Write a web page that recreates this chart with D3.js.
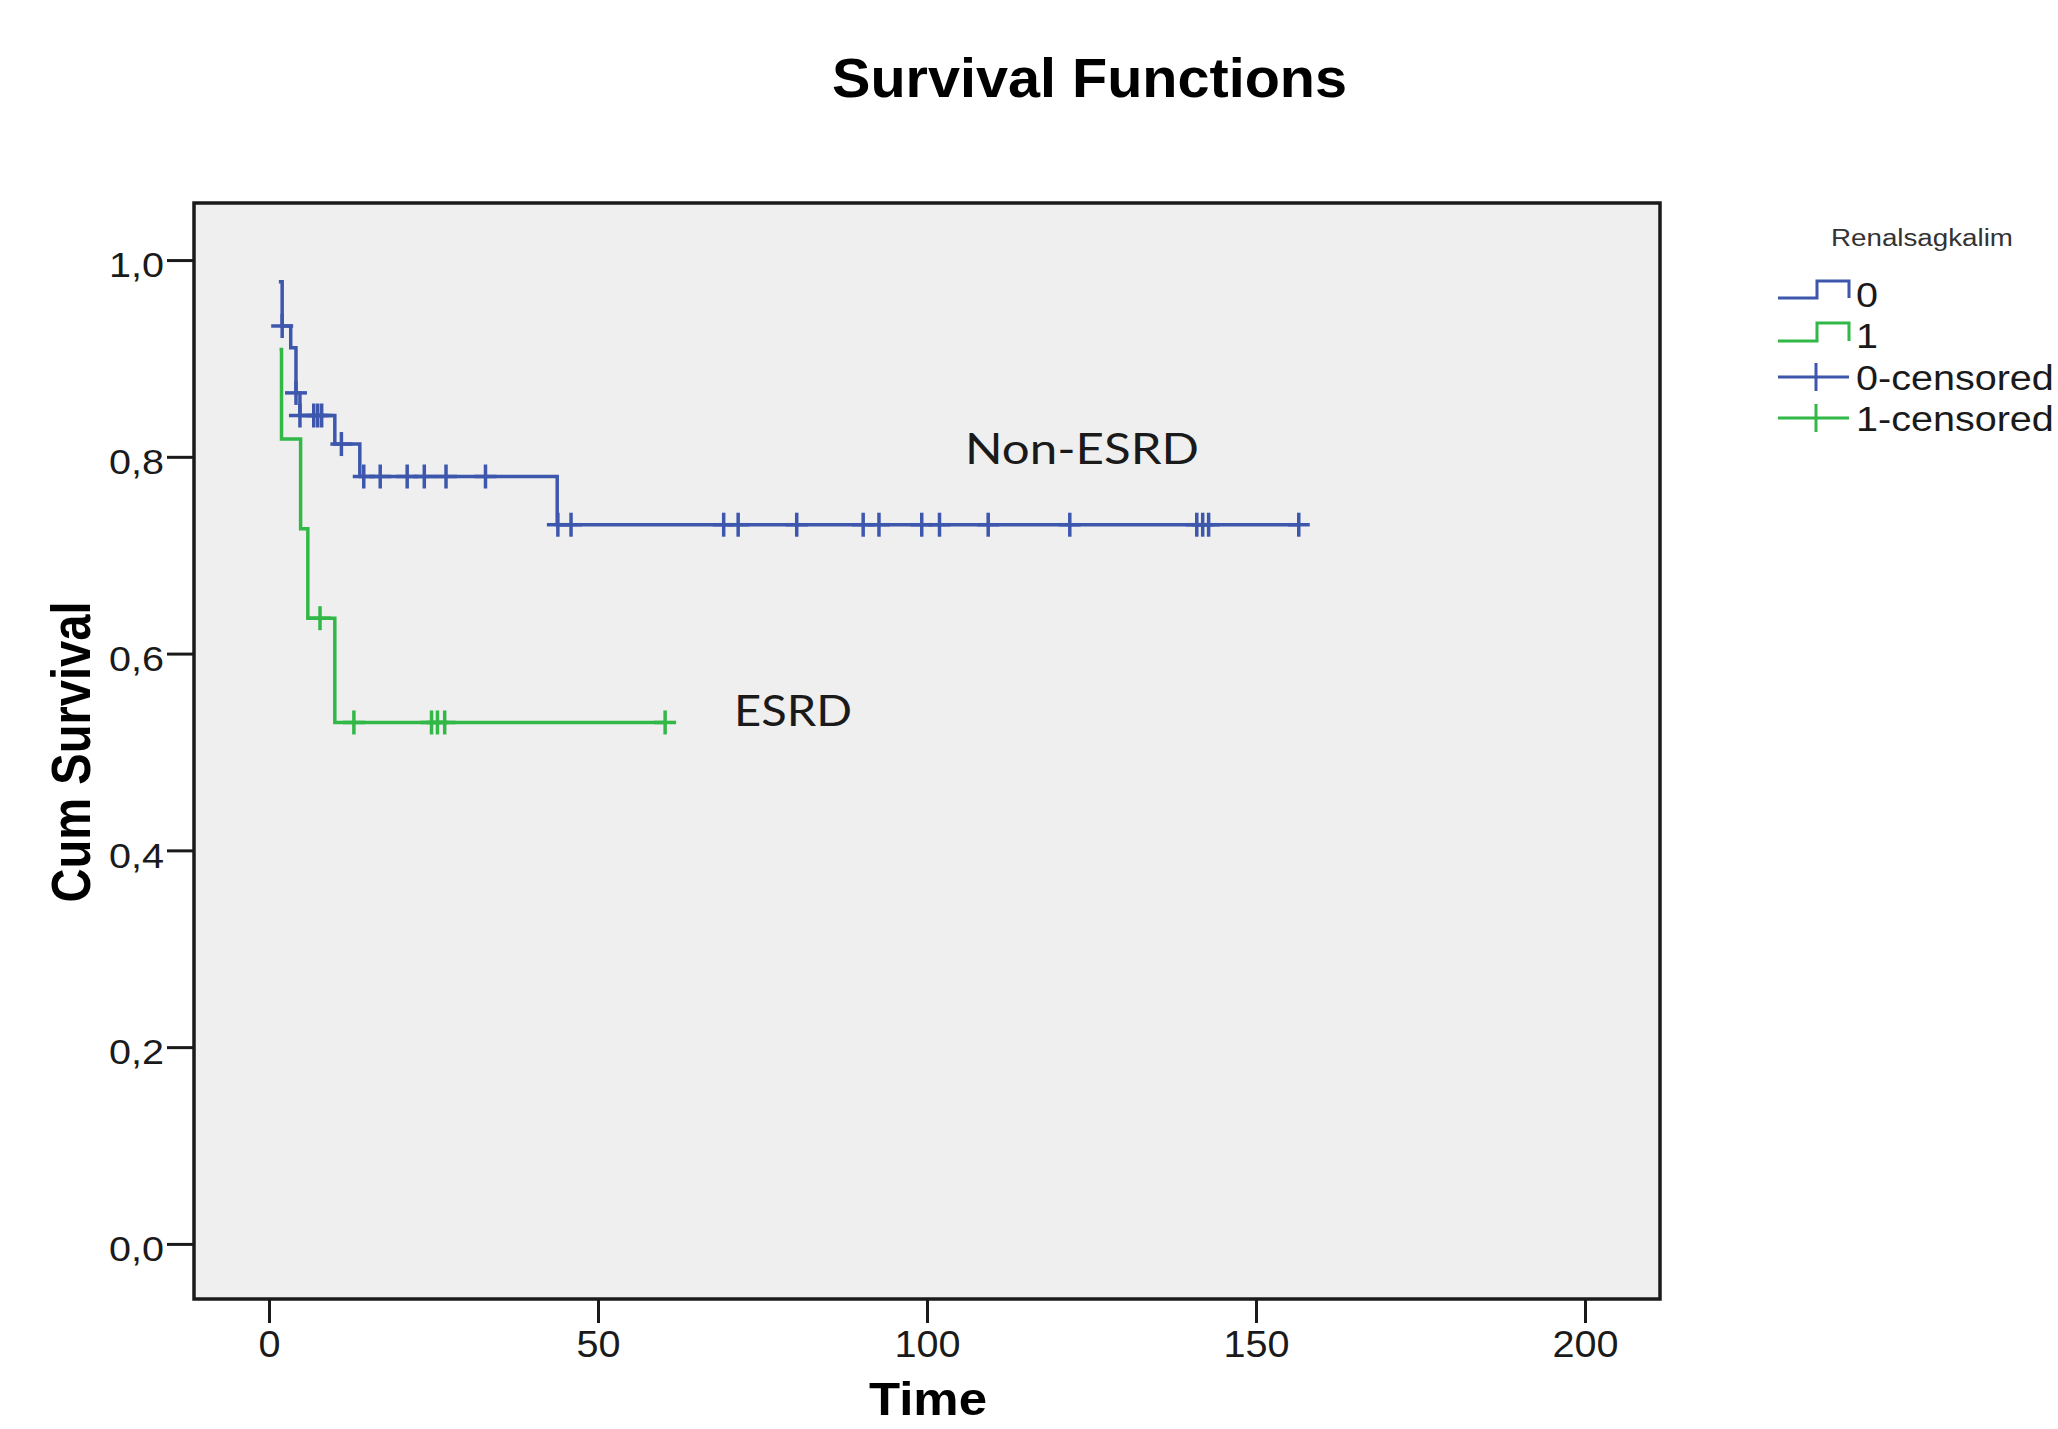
<!DOCTYPE html>
<html>
<head>
<meta charset="utf-8">
<script src="https://cdn.jsdelivr.net/npm/d3@7"></script>
<style>
  html, body { margin: 0; padding: 0; background: #ffffff; }
  svg { display: block; }
</style>
</head>
<body>
<svg id="chart" width="2058" height="1429"></svg>
<script>
// ---------------- DATA ----------------
const chartTitle = "Survival Functions";
const xAxisTitle = "Time";
const yAxisTitle = "Cum Survival";
const legendTitle = "Renalsagkalim";
const groupNames = ["0", "1"];
const censoredNames = ["0-censored", "1-censored"];
const annotationLabels = ["Non-ESRD", "ESRD"];

const xTickValues = [0, 50, 100, 150, 200];
const xTickLabels = ["0", "50", "100", "150", "200"];
const yTickValues = [0.0, 0.2, 0.4, 0.6, 0.8, 1.0];
const yTickLabels = ["0,0", "0,2", "0,4", "0,6", "0,8", "1,0"];

// group 0 (Non-ESRD): event times and cumulative survival after each event
const group0EventTimes = [1.5, 2.0, 3.3, 4.1, 4.7, 10.0, 13.8, 43.8];
const group0Survival   = [0.978, 0.933, 0.911, 0.865, 0.842, 0.813, 0.780, 0.731];
const group0CensorTimes = [2.0, 4.1, 4.7, 6.8, 7.4, 8.0, 11.0, 14.4, 16.9, 21.0, 23.6, 26.9, 32.9,
  43.9, 45.9, 69.1, 71.3, 80.2, 90.3, 92.7, 99.2, 101.9, 109.3, 121.7, 141.0, 141.9, 142.8, 156.5];

// group 1 (ESRD)
const group1EventTimes = [1.6, 1.9, 4.8, 5.9, 10.0];
const group1Survival   = [0.909, 0.818, 0.727, 0.636, 0.530];
const group1CensorTimes = [7.75, 12.9, 24.7, 25.6, 26.7, 60.2];

// ---------------- LAYOUT ----------------
const plot = { left: 194, right: 1660, top: 203, bottom: 1299 };
const colors = ["#3D57AD", "#32B846"];
const svg = d3.select("#chart");

const x = d3.scaleLinear().domain([-11.4, 211.4]).range([plot.left, plot.right]);
const y = d3.scaleLinear().domain([-0.056, 1.058]).range([plot.bottom, plot.top]);

function stretch(sel, k) {
  sel.each(function () {
    const len = this.getComputedTextLength();
    d3.select(this).attr("textLength", len * k).attr("lengthAdjust", "spacingAndGlyphs");
  });
  return sel;
}
function fitWidth(sel, w) {
  sel.attr("textLength", w).attr("lengthAdjust", "spacingAndGlyphs");
  return sel;
}

// title
fitWidth(svg.append("text")
  .attr("x", 1089.5).attr("y", 97)
  .attr("text-anchor", "middle")
  .attr("font-family", "Liberation Sans, Arial, sans-serif")
  .attr("font-weight", "bold").attr("font-size", 56)
  .attr("fill", "#000")
  .text(chartTitle), 515);

// plot background
svg.append("rect")
  .attr("x", plot.left).attr("y", plot.top)
  .attr("width", plot.right - plot.left).attr("height", plot.bottom - plot.top)
  .attr("fill", "#EFEFEF");

// y axis
const yAxis = d3.axisLeft(y).tickValues(yTickValues)
  .tickFormat((d, i) => yTickLabels[i]).tickSize(27).tickSizeOuter(0).tickPadding(3);
const gy = svg.append("g").attr("transform", `translate(${plot.left},0)`).call(yAxis);
gy.select(".domain").remove();
gy.selectAll(".tick line").attr("stroke", "#1a1a1a").attr("stroke-width", 3);
gy.selectAll(".tick text")
  .attr("font-family", "Liberation Sans, Arial, sans-serif")
  .attr("font-size", 35).attr("fill", "#1a1a1a")
  .attr("dy", "0.48em");
stretch(gy.selectAll(".tick text"), 1.13);

// x axis
const xAxis = d3.axisBottom(x).tickValues(xTickValues)
  .tickFormat((d, i) => xTickLabels[i]).tickSize(24).tickSizeOuter(0).tickPadding(8);
const gx = svg.append("g").attr("transform", `translate(0,${plot.bottom})`).call(xAxis);
gx.select(".domain").remove();
gx.selectAll(".tick line").attr("stroke", "#1a1a1a").attr("stroke-width", 3);
gx.selectAll(".tick text")
  .attr("font-family", "Liberation Sans, Arial, sans-serif")
  .attr("font-size", 36).attr("fill", "#1a1a1a")
  .attr("dy", "0.71em");
stretch(gx.selectAll(".tick text"), 1.1);

// frame
svg.append("rect")
  .attr("x", plot.left).attr("y", plot.top)
  .attr("width", plot.right - plot.left).attr("height", plot.bottom - plot.top)
  .attr("fill", "none").attr("stroke", "#1a1a1a").attr("stroke-width", 3.5);

// axis titles
svg.append("text")
  .attr("transform", `translate(90,752) rotate(-90) scale(1,1.2)`)
  .attr("text-anchor", "middle")
  .attr("font-family", "Liberation Sans, Arial, sans-serif")
  .attr("font-weight", "bold").attr("font-size", 47)
  .attr("fill", "#000")
  .attr("textLength", 301).attr("lengthAdjust", "spacingAndGlyphs")
  .text(yAxisTitle);

fitWidth(svg.append("text")
  .attr("x", 928).attr("y", 1415)
  .attr("text-anchor", "middle")
  .attr("font-family", "Liberation Sans, Arial, sans-serif")
  .attr("font-weight", "bold").attr("font-size", 47)
  .attr("fill", "#000")
  .text(xAxisTitle), 118);

// survival curves
const groups = [
  { times: group0EventTimes, surv: group0Survival, censor: group0CensorTimes, color: colors[0] },
  { times: group1EventTimes, surv: group1Survival, censor: group1CensorTimes, color: colors[1] }
];

function survAt(g, t) {
  let s = g.surv[0];
  for (let i = 0; i < g.times.length; i++) if (g.times[i] <= t) s = g.surv[i];
  return s;
}

const stepLine = d3.line().x(d => x(d[0])).y(d => y(d[1])).curve(d3.curveStepAfter);
const curves = svg.append("g").attr("fill", "none");
groups.forEach(g => {
  const pts = g.times.map((t, i) => [t, g.surv[i]]);
  const tEnd = d3.max(g.censor);
  pts.push([tEnd, g.surv[g.surv.length - 1]]);
  curves.append("path")
    .attr("d", stepLine(pts))
    .attr("stroke", g.color).attr("stroke-width", 3.5)
    .attr("stroke-linejoin", "miter");
  const marks = curves.append("g").attr("stroke", g.color).attr("stroke-width", 3.5);
  g.censor.forEach(t => {
    const cx = x(t), cy = y(survAt(g, t));
    marks.append("line").attr("x1", cx - 11).attr("x2", cx + 11).attr("y1", cy).attr("y2", cy);
    marks.append("line").attr("x1", cx).attr("x2", cx).attr("y1", cy - 12).attr("y2", cy + 12);
  });
});

// annotations
fitWidth(svg.append("text")
  .attr("x", 965).attr("y", 464)
  .attr("font-family", "Lato, 'Open Sans', sans-serif")
  .attr("font-size", 42).attr("fill", "#1a1a1a")
  .text(annotationLabels[0]), 234);
fitWidth(svg.append("text")
  .attr("x", 734).attr("y", 726)
  .attr("font-family", "Lato, 'Open Sans', sans-serif")
  .attr("font-size", 42).attr("fill", "#1a1a1a")
  .text(annotationLabels[1]), 118);

// legend
const lg = svg.append("g");
fitWidth(lg.append("text")
  .attr("x", 1922).attr("y", 246)
  .attr("text-anchor", "middle")
  .attr("font-family", "Liberation Sans, Arial, sans-serif")
  .attr("font-size", 23).attr("fill", "#333")
  .text(legendTitle), 182);

const stepRows = [{ low: 298, high: 281, base: 307 }, { low: 341, high: 323, base: 348 }];
stepRows.forEach((r, i) => {
  lg.append("path")
    .attr("d", `M1778,${r.low}H1817V${r.high}H1849V${r.low}`)
    .attr("fill", "none").attr("stroke", colors[i]).attr("stroke-width", 3);
  stretch(lg.append("text")
    .attr("x", 1856).attr("y", r.base)
    .attr("font-family", "Liberation Sans, Arial, sans-serif")
    .attr("font-size", 35).attr("fill", "#1a1a1a")
    .text(groupNames[i]), 1.13);
});
const censRows = [{ cy: 377, base: 390 }, { cy: 418, base: 431 }];
censRows.forEach((r, i) => {
  lg.append("line").attr("x1", 1778).attr("x2", 1849).attr("y1", r.cy).attr("y2", r.cy)
    .attr("stroke", colors[i]).attr("stroke-width", 3);
  lg.append("line").attr("x1", 1816).attr("x2", 1816).attr("y1", r.cy - 14).attr("y2", r.cy + 14)
    .attr("stroke", colors[i]).attr("stroke-width", 3);
  stretch(lg.append("text")
    .attr("x", 1856).attr("y", r.base)
    .attr("font-family", "Liberation Sans, Arial, sans-serif")
    .attr("font-size", 35).attr("fill", "#1a1a1a")
    .text(censoredNames[i]), 1.13);
});
</script>
</body>
</html>
